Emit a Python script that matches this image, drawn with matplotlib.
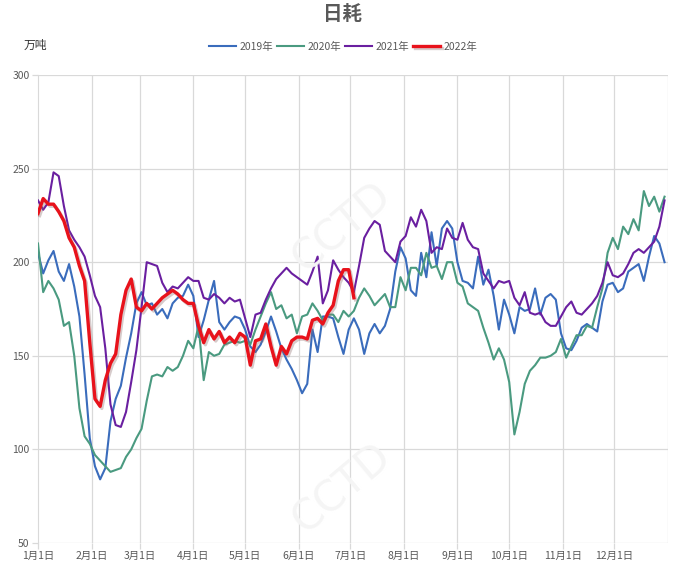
import numpy as np
import matplotlib
matplotlib.use("Agg")
import matplotlib.pyplot as plt
import matplotlib.patheffects as pe

plt.rcParams['font.family'] = ['Noto Sans CJK SC', 'DejaVu Sans']

# sampled every 3 days starting Jan 1 (day 0)
step_days = 3
v2019 = [205, 194, 201, 206, 195, 190, 199, 187, 171, 140, 106, 91, 84, 90, 115, 127, 134, 149, 162, 178,
         184, 177, 178, 172, 175, 170, 178, 181, 182, 188, 182, 160, 169, 180, 190, 168, 164, 168, 171, 170,
         164, 155, 152, 156, 163, 171, 163, 154, 148, 143, 137, 130, 135, 164, 152, 171, 171, 170, 160, 151,
         164, 170, 164, 151, 162, 167, 162, 166, 175, 195, 208, 202, 185, 182, 205, 192, 216, 198, 218, 222,
         218, 200, 190, 189, 186, 203, 188, 196, 182, 164, 180, 172, 162, 176, 174, 175, 186, 172, 181, 183,
         180, 162, 154, 153, 158, 165, 167, 165, 163, 179, 188, 189, 184, 186, 195, 197, 199, 190, 203, 214,
         210, 200]
v2020 = [210, 184, 190, 186, 180, 166, 168, 150, 122, 107, 103, 97, 94, 91, 88, 89, 90, 96, 100, 106,
         111, 126, 139, 140, 139, 144, 142, 144, 150, 158, 154, 166, 137, 152, 150, 151, 156, 157, 158, 157,
         158, 156, 164, 171, 178, 184, 175, 177, 170, 172, 162, 171, 172, 178, 174, 169, 172, 172, 168, 174,
         171, 174, 181, 186, 182, 177, 180, 183, 176, 176, 192, 185, 197, 197, 193, 205, 197, 198, 191, 200,
         200, 189, 187, 178, 176, 174, 165, 157, 148, 154, 148, 136, 108, 120, 135, 142, 145, 149, 149, 150,
         152, 159, 149, 155, 161, 161, 166, 165, 176, 186, 205, 213, 207, 219, 215, 223, 217, 238, 230, 235,
         227, 235]
v2021 = [233, 228, 232, 248, 246, 230, 217, 212, 208, 203, 193, 182, 176, 154, 124, 113, 112, 120, 136, 153,
         176, 200, 199, 198, 189, 184, 187, 186, 189, 192, 190, 190, 181, 180, 183, 181, 178, 181, 179, 180,
         170, 160, 172, 173, 180, 186, 191, 194, 197, 194, 192, 190, 188, 195, 203, 178, 185, 201, 196, 192,
         189, 184, 198, 213, 218, 222, 220, 206, 203, 200, 211, 214, 224, 219, 228, 222, 205, 208, 207, 218,
         213, 212, 221, 212, 208, 207, 194, 190, 186, 190, 189, 190, 181, 177, 184, 173, 172, 173, 168, 166,
         166, 171, 176, 179, 173, 172, 175, 178, 182, 189, 200, 193, 192, 194, 199, 205, 207, 205, 208, 211,
         219, 233]
v2022 = [226, 234, 231, 231, 227, 222, 213, 208, 198, 190, 157, 127, 123, 137, 146, 151, 172, 185, 191, 176,
         174, 178, 175, 178, 181, 183, 185, 183, 180, 178, 178, 166, 157, 164, 159, 163, 157, 160, 157, 162,
         160, 145, 158, 159, 167, 155, 145, 155, 151, 158, 160, 160, 159, 169, 170, 167, 173, 177, 190, 196,
         196, 181]

series = [("2019年", v2019, "#3A6CBC", 1.5),
          ("2020年", v2020, "#4A9A80", 1.5),
          ("2021年", v2021, "#6A1FA0", 1.5),
          ("2022年", v2022, "#E8121B", 2.4)]

month_starts = [0, 31, 59, 90, 120, 151, 181, 212, 243, 273, 304, 334]
month_labels = ["1月1日", "2月1日", "3月1日", "4月1日", "5月1日", "6月1日",
                "7月1日", "8月1日", "9月1日", "10月1日", "11月1日", "12月1日"]
y_ticks = [50, 100, 150, 200, 250, 300]

fig = plt.figure(figsize=(6.83, 5.68), dpi=100)
ax = fig.add_axes([38/683, 1-543/568, (668-38)/683, (543-75)/568])

grid_c = "#D9D9D9"
for d in month_starts[1:] + [365]:
    ax.axvline(d, color=grid_c, lw=0.9, zorder=0)
for yv in y_ticks:
    ax.axhline(yv, color=grid_c, lw=0.9, zorder=0)

handles = []
for name, vals, col, lw in series:
    x = np.arange(len(vals)) * step_days
    if name == "2022年":
        ln, = ax.plot(x, vals, color=col, lw=lw, label=name, zorder=5,
                      path_effects=[pe.SimpleLineShadow(offset=(1.2, -1.5), shadow_color="#8c6a6a", alpha=0.35),
                                    pe.Normal()])
    else:
        ln, = ax.plot(x, vals, color=col, lw=lw, label=name, zorder=3)
    handles.append(ln)

ax.set_xlim(0, 365)
ax.set_ylim(50, 300)
ax.set_xticks(month_starts)
ax.set_xticklabels(month_labels)
ax.set_yticks(y_ticks)
for s in ax.spines.values():
    s.set_visible(False)
ax.spines['left'].set_visible(True)
ax.spines['left'].set_color(grid_c)
ax.tick_params(axis='both', colors=grid_c, labelcolor="#595959", labelsize=7.5, length=4, width=0.9)
ax.tick_params(axis='x', pad=2)
ax.tick_params(axis='y', pad=2)

# faint watermark
for (wx, wy) in [(0.50, 0.60), (0.50, 0.14)]:
    fig.text(wx, wy, "CCTD", fontsize=30, color="#F5F5F5", rotation=40, ha='center', va='center',
             zorder=0, family='DejaVu Sans')

fig.text(343/683, 1-15/568, "日耗", fontsize=14, color="#595959", ha='center', va='center', fontweight='bold')
fig.text(24/683, 1-45/568, "万吨", fontsize=8.5, color="#333333", ha='left', va='center')

leg = fig.legend(handles=handles, loc='center', bbox_to_anchor=(343/683, 1-47/568), ncol=4,
                 frameon=False, fontsize=7.5, handlelength=2.6, handletextpad=0.3, columnspacing=0.4,
                 labelcolor="#595959")

fig.savefig("out.png", dpi=100)
